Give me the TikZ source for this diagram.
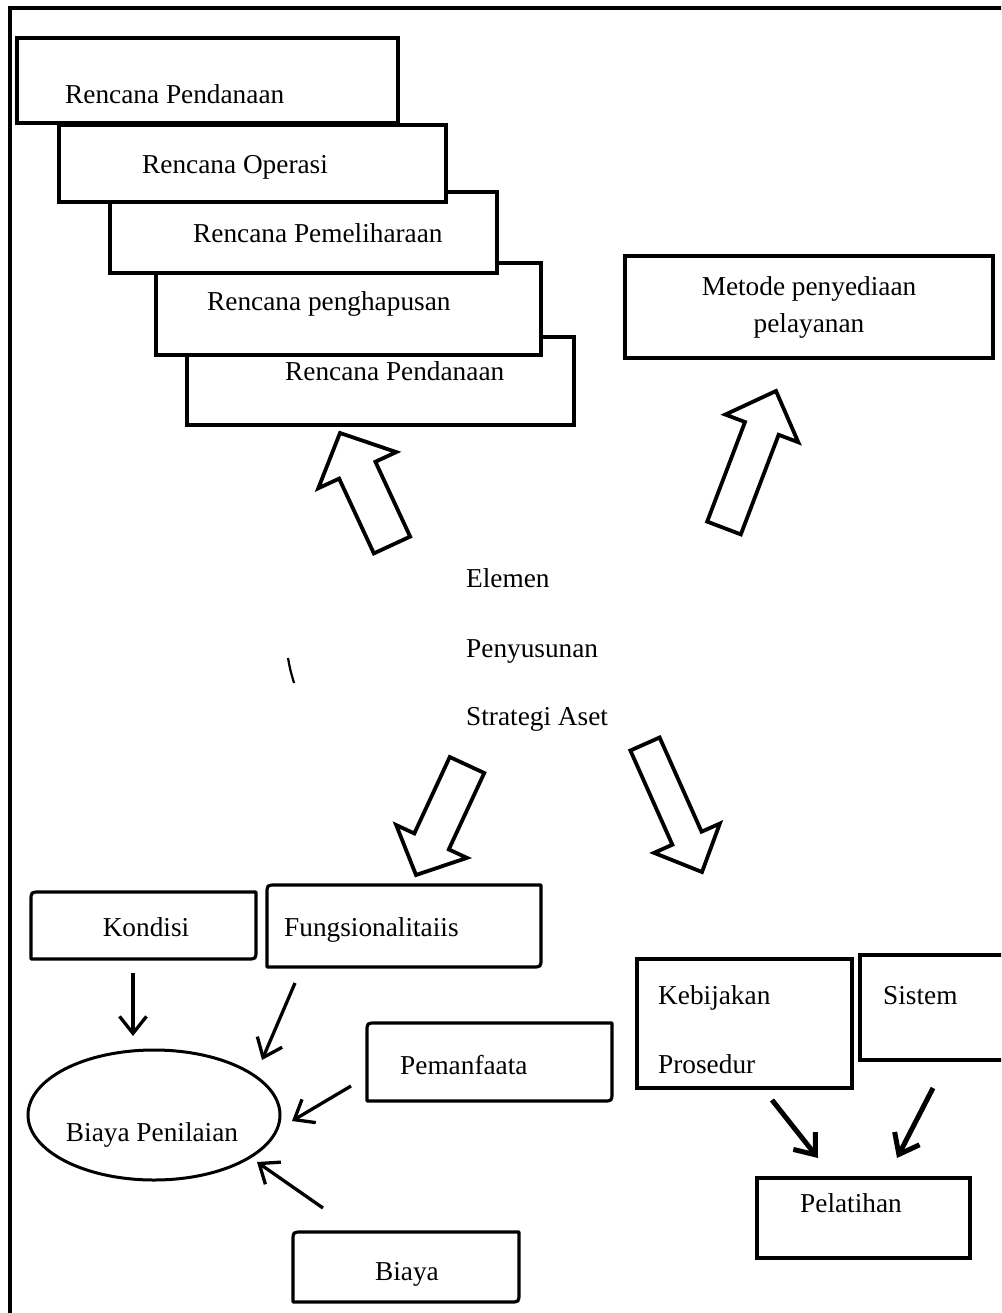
\documentclass[tikz,border=0pt]{standalone}
\usepackage{fontspec}
\setmainfont{Liberation Serif}
\usetikzlibrary{shapes.geometric,arrows.meta,calc}

% hollow block arrow: #1 name, #2 tail, #3 tip, #4 shaft half width,
% #5 head half width, #6 head length
\newcommand\blockarrow[6]{%
  \coordinate (#1-n) at ($(#3)!#6!(#2)$);
  \draw[hollowarrow] ($(#2)!#4!90:(#3)$) -- ($(#1-n)!#4!90:(#3)$)
    -- ($(#1-n)!#5!90:(#3)$) -- (#3) -- ($(#1-n)!#5!-90:(#3)$)
    -- ($(#1-n)!#4!-90:(#3)$) -- ($(#2)!#4!-90:(#3)$) -- cycle;
}
% box with rounded top-left and bottom-right corners
\newcommand\roundtwo[1]{%
  \draw[rbox] (#1.south west) -- ([yshift=-9pt]#1.north west)
    .. controls (#1.north west) .. ([xshift=9pt]#1.north west)
    -- (#1.north east) -- ([yshift=9pt]#1.south east)
    .. controls (#1.south east) .. ([xshift=-9pt]#1.south east) -- cycle;
}

\begin{document}
\begin{tikzpicture}[x=1pt,y=-1pt,
  font=\fontsize{27.3}{37}\selectfont,
  pbox/.style={draw, line width=3.5pt, fill=white, inner sep=0pt, outer sep=0pt},
  shell/.style={inner sep=0pt, outer sep=0pt},
  rbox/.style={line width=3.2pt, line join=round},
  txt/.style={inner sep=0pt, anchor=base west},
  ctxt/.style={inner sep=0pt, anchor=base},
  hollowarrow/.style={draw, fill=white, line width=3.8pt, line join=miter},
  thinarr/.style={line width=3.3pt, -{Straight Barb[length=17pt,width=27pt]}},
  heavyarr/.style={line width=5pt, -{Straight Barb[length=18pt,width=28pt]}},
  frame/.style={line width=3.6pt}]

\useasboundingbox (0,0) rectangle (1001,1313);
\clip (0,0) rectangle (1001,1313);
\fill[white] (0,0) rectangle (1001,1313);

% outer frame (top and left sides)
\draw[frame] (1030,8) -- (10,8) -- (10,1340);

% stacked plan boxes, back to front
\node[pbox, minimum width=387pt, minimum height=88pt] (rp5) at (380.5,381) {};
\node[txt] (rp5t) at (285,380) {Rencana Pendanaan};
\node[pbox, minimum width=385pt, minimum height=92pt] (rp4) at (348.5,309) {};
\node[txt] (rp4t) at (207,310) {Rencana penghapusan};
\node[pbox, minimum width=387pt, minimum height=81pt] (rp3) at (303.5,232.5) {};
\node[txt] (rp3t) at (193,243) {Rencana Pemeliharaan};
\node[pbox, minimum width=387pt, minimum height=77pt] (rp2) at (252.5,163.5) {};
\node[txt] (rp2t) at (142,174) {Rencana Operasi};
\node[pbox, minimum width=381pt, minimum height=85pt] (rp1) at (207.5,80.5) {};
\node[txt] (rp1t) at (65,104) {Rencana Pendanaan};

% service method box
\node[pbox, minimum width=368pt, minimum height=102pt, align=center] (metode) at (809,307)
  {Metode penyediaan\\pelayanan};

% central label
\node[txt] (el1) at (466,587) {Elemen};
\node[txt] (el2) at (466,657) {Penyusunan};
\node[txt] (el3) at (466,725) {Strategi Aset};

% block arrows
\coordinate (aA-s) at (392,545); \coordinate (aA-t) at (340,433);
\coordinate (aB-s) at (724,528); \coordinate (aB-t) at (776,391);
\coordinate (aC-s) at (467,765); \coordinate (aC-t) at (416,875);
\coordinate (aD-s) at (645,744); \coordinate (aD-t) at (702,872);
\blockarrow{aA}{aA-s}{aA-t}{20pt}{43pt}{41pt}
\blockarrow{aB}{aB-s}{aB-t}{18pt}{39pt}{40pt}
\blockarrow{aC}{aC-s}{aC-t}{19pt}{39pt}{37pt}
\blockarrow{aD}{aD-s}{aD-t}{16pt}{36pt}{37pt}

% small stroke
\draw[line width=2.2pt] (288,658) .. controls (290,669) .. (294,683);

% assessment group
\node[shell, minimum width=225pt, minimum height=67pt] (kondisi) at (143.5,925.5) {};
\roundtwo{kondisi}
\node[ctxt] (kondisit) at (146,936) {Kondisi};

\node[shell, minimum width=274pt, minimum height=82pt] (fungsi) at (404,926) {};
\roundtwo{fungsi}
\node[txt] (fungsit) at (284,936) {Fungsionalitaiis};

\node[shell, minimum width=245pt, minimum height=78pt] (manfaat) at (489.5,1062) {};
\roundtwo{manfaat}
\node[txt] (manfaatt) at (400,1074) {Pemanfaata};

\node[shell, minimum width=226pt, minimum height=70pt] (biaya) at (406,1267) {};
\roundtwo{biaya}
\node[ctxt] (biayat) at (407,1280) {Biaya};

\node[draw, ellipse, line width=3pt, minimum width=252pt, minimum height=130pt, inner sep=0pt] (bp) at (154,1115) {};
\node[ctxt] (bpt) at (152,1141) {Biaya Penilaian};

\coordinate (k-a) at (133,973);  \coordinate (k-b) at (133,1036);
\coordinate (f-a) at (295,983);  \coordinate (f-b) at (262,1060);
\coordinate (m-a) at (351,1086); \coordinate (m-b) at (292,1121);
\coordinate (b-a) at (323,1208); \coordinate (b-b) at (257,1162);
\draw[thinarr] (k-a) -- (k-b);
\draw[thinarr] (f-a) -- (f-b);
\draw[thinarr] (m-a) -- (m-b);
\draw[thinarr] (b-a) -- (b-b);

% policy and training group
\node[pbox, minimum width=215pt, minimum height=129pt] (kebijakan) at (744.5,1023.5) {};
\node[txt] (kebt) at (658,1004) {Kebijakan};
\node[txt] (prot) at (658,1073) {Prosedur};

\node[pbox, minimum width=180pt, minimum height=105pt] (sistem) at (950,1007.5) {};
\node[txt] (sistemt) at (883,1004) {Sistem};

\node[pbox, minimum width=213pt, minimum height=80pt] (pelatihan) at (863.5,1218) {};
\node[txt] (pelt) at (800,1212) {Pelatihan};

\coordinate (kp-a) at (772,1100); \coordinate (kp-b) at (818,1158);
\coordinate (sp-a) at (933,1088); \coordinate (sp-b) at (897,1158);
\draw[heavyarr] (kp-a) -- (kp-b);
\draw[heavyarr] (sp-a) -- (sp-b);

\end{tikzpicture}
\end{document}
